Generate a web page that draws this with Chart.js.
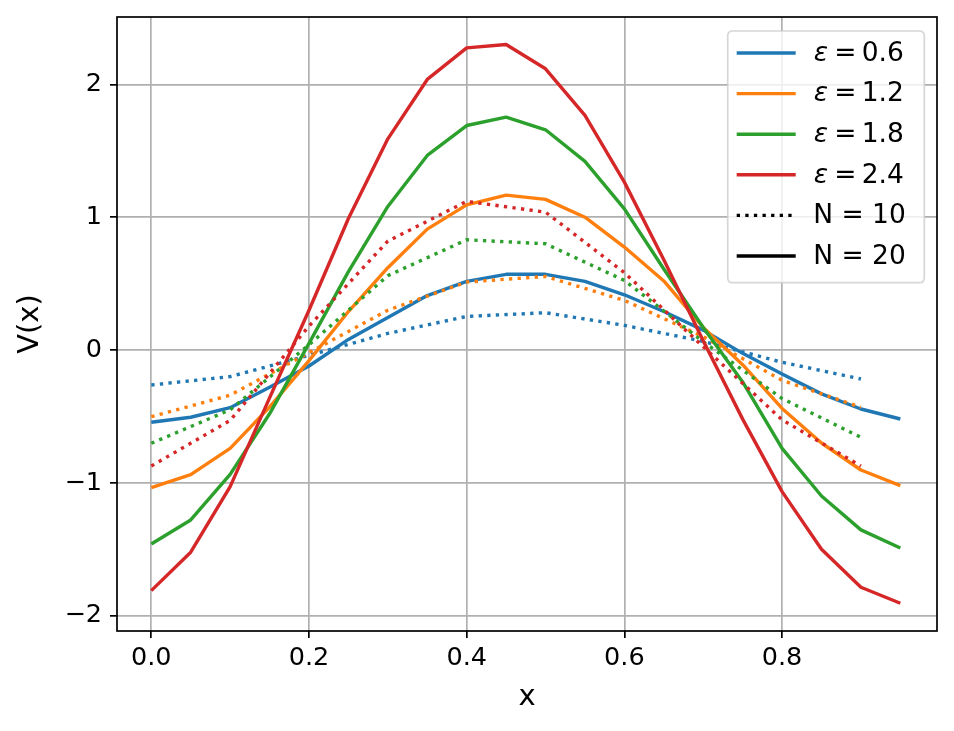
<!DOCTYPE html>
<html>
<head>
<meta charset="utf-8">
<script src="https://cdn.jsdelivr.net/npm/chart.js@4.4.1/dist/chart.umd.min.js"></script>
<style>
html,body{margin:0;padding:0;background:#fff;}
#wrap{width:954px;height:731px;position:relative;}
canvas{display:block;}
</style>
</head>
<body>
<div id="wrap"><canvas id="c" width="954" height="731"></canvas></div>
<script>
// ---- data ----
const x20 = [0, 0.05, 0.1, 0.15, 0.2, 0.25, 0.3, 0.35, 0.4, 0.45, 0.5, 0.55, 0.6, 0.65, 0.7, 0.75, 0.8, 0.85, 0.9, 0.95];
const x10 = [0, 0.1, 0.2, 0.3, 0.4, 0.5, 0.6, 0.7, 0.8, 0.9];

const epsValues = ['0.6', '1.2', '1.8', '2.4'];
const nLabels = ['N = 10', 'N = 20'];

// N = 20 (solid)
const v20_e06 = [-0.544, -0.506, -0.434, -0.28, -0.12, 0.08, 0.245, 0.41, 0.517, 0.57, 0.57, 0.517, 0.416, 0.29, 0.15, -0.025, -0.18, -0.33, -0.444, -0.519];
const v20_e12 = [-1.036, -0.938, -0.74, -0.43, -0.08, 0.29, 0.62, 0.91, 1.093, 1.166, 1.134, 1.0, 0.775, 0.52, 0.17, -0.11, -0.44, -0.70, -0.903, -1.021];
const v20_e18 = [-1.46, -1.279, -0.936, -0.48, 0.05, 0.59, 1.081, 1.465, 1.69, 1.753, 1.658, 1.42, 1.063, 0.61, 0.17, -0.24, -0.74, -1.099, -1.354, -1.49];
const v20_e24 = [-1.811, -1.522, -1.028, -0.36, 0.30, 0.99, 1.59, 2.037, 2.275, 2.30, 2.117, 1.766, 1.264, 0.68, 0.07, -0.52, -1.066, -1.50, -1.786, -1.906];

// N = 10 (dotted)
const v10_e06 = [-0.263, -0.20, -0.04, 0.125, 0.253, 0.281, 0.186, 0.065, -0.092, -0.218];
const v10_e12 = [-0.502, -0.34, -0.02, 0.30, 0.512, 0.554, 0.374, 0.10, -0.228, -0.431];
const v10_e18 = [-0.702, -0.45, 0.04, 0.56, 0.83, 0.80, 0.524, 0.063, -0.365, -0.657];
const v10_e24 = [-0.873, -0.53, 0.18, 0.82, 1.119, 1.038, 0.583, 0.025, -0.525, -0.873];

const xTicks = [0, 0.2, 0.4, 0.6, 0.8];
const yTicks = [-2, -1, 0, 1, 2];

// ---- styles ----
const colors = ['#1f77b4', '#ff7f0e', '#2ca02c', '#d62728'];
const FONT = 'DejaVu Sans';
const LW = 3.4;
const DOT = [3.3, 5.3];

const v20 = [v20_e06, v20_e12, v20_e18, v20_e24];
const v10 = [v10_e06, v10_e12, v10_e18, v10_e24];

function pts(xs, ys) { return xs.map((x, i) => ({x: x, y: ys[i]})); }

const datasets = [];
let k = 0;
for (let i = 0; i < 4; i++) {
  datasets.push({
    label: 'eps ' + epsValues[i] + ' N10',
    data: pts(x10, v10[i]),
    borderColor: colors[i], borderWidth: LW, borderDash: DOT,
    borderCapStyle: 'butt', pointRadius: 0, fill: false, tension: 0, order: -(k++)
  });
  datasets.push({
    label: 'eps ' + epsValues[i] + ' N20',
    data: pts(x20, v20[i]),
    borderColor: colors[i], borderWidth: LW,
    borderCapStyle: 'butt', borderJoinStyle: 'round', pointRadius: 0, fill: false, tension: 0, order: -(k++)
  });
}

const spines = {
  id: 'spines',
  afterDatasetsDraw(chart) {
    const a = chart.chartArea, ctx = chart.ctx;
    ctx.save();
    ctx.strokeStyle = '#000';
    ctx.lineWidth = 1.7;
    ctx.strokeRect(a.left, a.top, a.right - a.left, a.bottom - a.top);
    ctx.restore();
  }
};

function roundRect(ctx, x, y, w, h, r) {
  ctx.beginPath();
  ctx.moveTo(x + r, y);
  ctx.lineTo(x + w - r, y);
  ctx.quadraticCurveTo(x + w, y, x + w, y + r);
  ctx.lineTo(x + w, y + h - r);
  ctx.quadraticCurveTo(x + w, y + h, x + w - r, y + h);
  ctx.lineTo(x + r, y + h);
  ctx.quadraticCurveTo(x, y + h, x, y + h - r);
  ctx.lineTo(x, y + r);
  ctx.quadraticCurveTo(x, y, x + r, y);
  ctx.closePath();
}

const legendPlugin = {
  id: 'mplLegend',
  afterDraw(chart) {
    const ctx = chart.ctx;
    const a = chart.chartArea;
    const bx = a.right - 12.7, bw = 196.6, bh = 251.7;
    const by = a.top + 14;
    const x0 = bx - bw;
    ctx.save();
    roundRect(ctx, x0, by, bw, bh, 5);
    ctx.fillStyle = 'rgba(255,255,255,0.8)';
    ctx.fill();
    ctx.strokeStyle = 'rgba(204,204,204,0.8)';
    ctx.lineWidth = 1.7;
    ctx.stroke();

    const rowH = 40.6;
    const row0 = by + 22;
    const lx0 = x0 + 9, lx1 = x0 + 68;
    const tx = x0 + 87.5;
    ctx.textBaseline = 'middle';
    ctx.textAlign = 'left';
    const fs = 26.5;
    for (let i = 0; i < 6; i++) {
      const yy = row0 + i * rowH;
      ctx.beginPath();
      ctx.moveTo(lx0, yy); ctx.lineTo(lx1, yy);
      ctx.lineCap = 'butt';
      if (i < 4) {
        ctx.strokeStyle = colors[i]; ctx.setLineDash([]);
      } else {
        ctx.strokeStyle = '#000';
        ctx.setLineDash(i === 4 ? DOT : []);
      }
      ctx.lineWidth = LW;
      ctx.stroke();
      ctx.setLineDash([]);
      ctx.fillStyle = '#000';
      const ty = yy + 1;
      if (i < 4) {
        ctx.font = 'italic ' + fs + 'px "' + FONT + '"';
        ctx.fillText('\u03b5', tx - 1.5, ty);
        ctx.font = fs + 'px "' + FONT + '"';
        ctx.fillText('=', tx + 19, ty);
        ctx.fillText(epsValues[i], tx + 46.5, ty);
      } else {
        ctx.font = fs + 'px "' + FONT + '"';
        ctx.fillText(nLabels[i - 4], tx - 2, ty);
      }
    }
    ctx.restore();
  }
};

const fmtY = v => (v < 0 ? '\u2212' + Math.abs(v) : String(v));

new Chart(document.getElementById('c'), {
  type: 'line',
  data: { datasets: datasets },
  options: {
    responsive: false,
    animation: false,
    devicePixelRatio: 1,
    layout: { padding: { top: 17, right: 17, left: 0, bottom: 0 } },
    plugins: { legend: { display: false }, tooltip: { enabled: false } },
    scales: {
      x: {
        type: 'linear',
        min: -0.0435, max: 0.9965,
        afterBuildTicks: s => { s.ticks = xTicks.map(v => ({value: v})); },
        afterFit: s => { s.height = 100; s.paddingLeft = 0; s.paddingRight = 0; },
        border: { display: false },
        grid: { color: '#b0b0b0', lineWidth: 1.7, drawTicks: true, tickLength: 7, tickColor: '#000', tickWidth: 1.7 },
        ticks: { color: '#000', font: { family: FONT, size: 25.5 }, padding: 5, maxRotation: 0, autoSkip: false,
                 callback: v => Number(v).toFixed(1) },
        title: { display: true, text: 'x', color: '#000', font: { family: FONT, size: 29 }, padding: { top: 0, bottom: 16.6 } }
      },
      y: {
        type: 'linear',
        min: -2.115, max: 2.507,
        afterBuildTicks: s => { s.ticks = yTicks.map(v => ({value: v})); },
        afterFit: s => { s.width = 117; s.paddingTop = 0; s.paddingBottom = 0; },
        border: { display: false },
        grid: { color: '#b0b0b0', lineWidth: 1.7, drawTicks: true, tickLength: 7, tickColor: '#000', tickWidth: 1.7 },
        ticks: { color: '#000', font: { family: FONT, size: 25.5 }, padding: 8, autoSkip: false,
                 callback: v => fmtY(v) },
        title: { display: true, text: 'V(x)', color: '#000', font: { family: FONT, size: 29 }, padding: { top: 12.6, bottom: 0 } }
      }
    }
  },
  plugins: [spines, legendPlugin]
});
</script>
</body>
</html>
